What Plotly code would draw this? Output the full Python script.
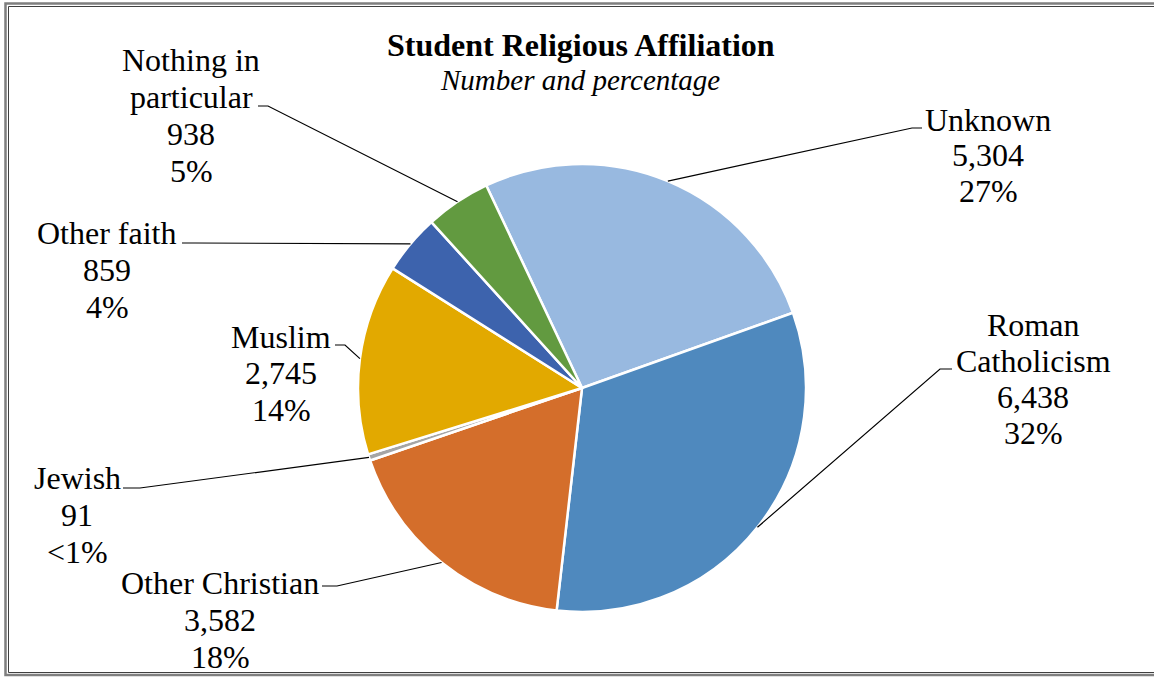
import math
import plotly.graph_objects as go

# ---- data ----
categories = ["Unknown", "Roman Catholicism", "Other Christian", "Jewish",
              "Muslim", "Other faith", "Nothing in particular"]
counts = [5304, 6438, 3582, 91, 2745, 859, 938]
colors = ["#98B9E0", "#4F89BE", "#D46E2B", "#A5A5A5", "#E2A900", "#3D63AD", "#629A40"]
label_lines = [["Unknown"], ["Roman", "Catholicism"], ["Other Christian"], ["Jewish"],
               ["Muslim"], ["Other faith"], ["Nothing in", "particular"]]

W, H = 1154, 677
CX, CY, R = 582, 388, 224
ROT = -25.3  # start angle of first slice (deg, clockwise from 12 o'clock)

# label layout: (x center, first line y, line spacing, leader start, leader elbow)
label_layout = [
    (988, 120, 35.5, (922, 128), (912, 128)),
    (1033, 325, 36, (952, 369), (940, 369)),
    (220, 583, 37, (322, 586), (337, 586)),
    (77, 478, 37, (123, 488), (140, 488)),
    (281, 337, 36.5, (335, 345), (345, 345)),
    (107, 233, 37, (182, 243), (195, 243)),
    (191, 60, 37, (258, 106), (268, 106)),
]


def px(x, y):
    return x / W, 1 - y / H


total = sum(counts)


def pct_text(v):
    p = 100 * v / total
    return "<1%" if p < 1 else f"{round(p)}%"


fig = go.Figure(go.Pie(
    labels=categories, values=counts, sort=False, direction="clockwise",
    rotation=ROT, textinfo="none", hoverinfo="label+value+percent",
    marker=dict(colors=colors, line=dict(color="white", width=2.5)),
    domain=dict(x=[(CX - R) / W, (CX + R) / W], y=[(H - CY - R) / H, (H - CY + R) / H]),
    showlegend=False,
))

FONT = "Liberation Serif, Times New Roman, serif"
annotations = []
shapes = []

cum = 0
for cat, v, lines, lay in zip(categories, counts, label_lines, label_layout):
    mid = math.radians(ROT + 360 * (cum + v / 2) / total)
    cum += v
    ex, ey = CX + R * math.sin(mid), CY - R * math.cos(mid)
    xc, y0, dy, (sx, sy), (bx, by) = lay
    all_lines = lines + [f"{v:,}", pct_text(v)]
    for i, t in enumerate(all_lines):
        ax, ay = px(xc, y0 + i * dy)
        annotations.append(dict(x=ax, y=ay, xref="paper", yref="paper", text=t,
                                showarrow=False, xanchor="center", yanchor="middle",
                                font=dict(family=FONT, size=32, color="black")))
    p1, p2, p3 = px(sx, sy), px(bx, by), px(ex, ey)
    shapes.append(dict(type="path", xref="paper", yref="paper",
                       path=f"M {p1[0]},{p1[1]} L {p2[0]},{p2[1]} L {p3[0]},{p3[1]}",
                       line=dict(color="black", width=1.2)))

# title
tx, ty = px(581, 45)
annotations.append(dict(x=tx, y=ty, xref="paper", yref="paper", text="<b>Student Religious Affiliation</b>",
                        showarrow=False, xanchor="center", yanchor="middle",
                        font=dict(family=FONT, size=32, color="black")))
sx_, sy_ = px(580, 80)
annotations.append(dict(x=sx_, y=sy_, xref="paper", yref="paper", text="<i>Number and percentage</i>",
                        showarrow=False, xanchor="center", yanchor="middle",
                        font=dict(family=FONT, size=29, color="black")))

# double frame
a, b = px(5.5, 3.5), px(1170, 675)
shapes.append(dict(type="rect", xref="paper", yref="paper", x0=a[0], y0=b[1], x1=b[0], y1=a[1],
                   line=dict(color="#7F7F7F", width=2.5)))
a, b = px(8.5, 6.5), px(1170, 672.5)
shapes.append(dict(type="rect", xref="paper", yref="paper", x0=a[0], y0=b[1], x1=b[0], y1=a[1],
                   line=dict(color="#404040", width=1)))

fig.update_layout(width=W, height=H, margin=dict(l=0, r=0, t=0, b=0),
                  paper_bgcolor="white", plot_bgcolor="white",
                  annotations=annotations, shapes=shapes)

fig.write_html("out.html", config={"displayModeBar": False},
               post_script="document.body.style.margin='0';document.body.style.padding='0';"
                           "document.body.style.overflow='hidden';")
